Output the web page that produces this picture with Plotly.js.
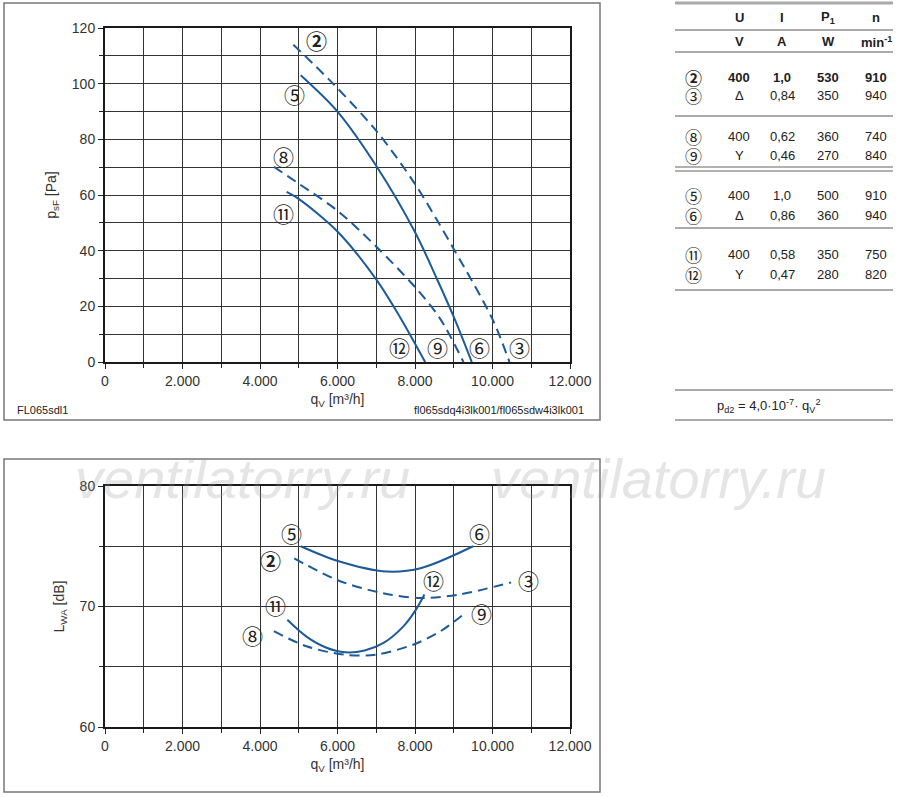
<!DOCTYPE html>
<html>
<head>
<meta charset="utf-8">
<script src="https://cdn.plot.ly/plotly-3.0.1.min.js"></script>
<style>body{margin:0;background:#fff}#chart{width:900px;height:797px}</style>
</head>
<body>
<div id="chart"></div>
<script>
// ---- Data: pressure curves (top chart), qV in m3/h, psF in Pa ----
const p23_q = [4861, 5893, 7003, 8002, 9003, 10002, 10437];
const p23_p = [114.0, 99.9, 83.0, 63.9, 40.5, 15.3, 0];
const p56_q = [5050, 6005, 7003, 8002, 8561, 9003, 9465];
const p56_p = [103.0, 89.9, 70.4, 46.6, 30.0, 16.1, 0];
const p89_q = [4361, 5007, 6005, 7003, 8002, 8647, 9250];
const p89_p = [70.1, 64.0, 54.3, 41.4, 26.9, 15.6, 0];
const p1112_q = [4688, 5007, 6005, 7003, 7614, 8262];
const p1112_p = [61.1, 58.5, 46.8, 29.6, 16.1, 0];

// ---- Data: sound power curves (bottom chart), LWA in dB ----
const l56_q = [5051, 5990, 7275, 8165, 9499];
const l56_l = [75.0, 73.8, 72.9, 73.2, 75.0];
const l23_q = [4883, 5990, 7176, 8165, 9153, 10481];
const l23_l = [74.0, 72.2, 71.1, 70.7, 71.0, 72.0];
const l1112_q = [4705, 5200, 5700, 6200, 6700, 7200, 7700, 8016, 8244];
const l1112_l = [68.9, 67.5, 66.6, 66.2, 66.35, 67.0, 68.35, 69.7, 71.0];
const l89_q = [4359, 5199, 6188, 6978, 7967, 8659, 9252];
const l89_l = [67.95, 66.7, 66.0, 66.0, 66.85, 67.95, 69.35];

// ---- Table data ----
const tblHead1 = ["U", "I", "P<sub>1</sub>", "n"];
const tblHead2 = ["V", "A", "W", "min<sup>-1</sup>"];
const tblLabel = ["②", "③", "⑧", "⑨", "⑤", "⑥", "⑪", "⑫"];
const tblU = ["400", "Δ", "400", "Y", "400", "Δ", "400", "Y"];
const tblI = ["1,0", "0,84", "0,62", "0,46", "1,0", "0,86", "0,58", "0,47"];
const tblP = ["530", "350", "360", "270", "500", "360", "350", "280"];
const tblN = ["910", "940", "740", "840", "910", "940", "750", "820"];

const W = 900, H = 797;
const X = v => v / W;
const Y = v => 1 - v / H;
const blue = '#1d5a98';
const FONT = 'Liberation Sans, Arial, sans-serif';
const CIRC = 'Noto Sans CJK JP, DejaVu Sans, sans-serif';

function tr(x, y, dash, xa, ya) {
  return {x: x, y: y, type: 'scatter', mode: 'lines', xaxis: xa, yaxis: ya,
    line: {color: blue, width: 2, dash: dash ? '10px,6px' : 'solid', shape: 'spline', smoothing: 0.9},
    hoverinfo: 'skip', showlegend: false};
}

const data = [
  tr(p23_q, p23_p, true, 'x', 'y'),
  tr(p56_q, p56_p, false, 'x', 'y'),
  tr(p89_q, p89_p, true, 'x', 'y'),
  tr(p1112_q, p1112_p, false, 'x', 'y'),
  tr(l56_q, l56_l, false, 'x2', 'y2'),
  tr(l23_q, l23_l, true, 'x2', 'y2'),
  tr(l1112_q, l1112_l, false, 'x2', 'y2'),
  tr(l89_q, l89_l, true, 'x2', 'y2')
];

function xax(anchor) {
  return {domain: [X(105), X(570)], range: [0, 12000], anchor: anchor,
    tickvals: [0, 2000, 4000, 6000, 8000, 10000, 12000], tickformat: ',d',
    ticks: 'outside', ticklen: 5, tickcolor: '#222',
    minor: {dtick: 1000, showgrid: true, gridcolor: '#333', gridwidth: 1, ticks: 'outside', ticklen: 4, tickcolor: '#222'},
    showgrid: true, gridcolor: '#333', gridwidth: 1,
    showline: true, linecolor: '#1a1a1a', linewidth: 2, mirror: true, zeroline: false,
    tickfont: {family: FONT, size: 14, color: '#333'},
    title: {text: 'q<sub>V</sub> [m³/h]', font: {family: FONT, size: 14, color: '#333'}, standoff: 6},
    automargin: false, fixedrange: true};
}
function yax(anchor, dom, range, dtick, minor) {
  return {domain: dom, range: range, anchor: anchor, dtick: dtick,
    ticks: 'outside', ticklen: 5, tickcolor: '#222',
    minor: {dtick: minor, showgrid: true, gridcolor: '#333', gridwidth: 1, ticks: 'outside', ticklen: 4, tickcolor: '#222'},
    showgrid: true, gridcolor: '#333', gridwidth: 1,
    showline: true, linecolor: '#1a1a1a', linewidth: 2, mirror: true, zeroline: false,
    tickfont: {family: FONT, size: 14, color: '#333'},
    automargin: false, fixedrange: true};
}

const yTop = yax('x', [Y(362), Y(28)], [0, 120], 20, 10);
yTop.title = {text: 'p<sub>sF</sub> [Pa]', font: {family: FONT, size: 14, color: '#333'}, standoff: 12};
const yBot = yax('x2', [Y(727), Y(486)], [60, 80], 10, 5);
yBot.title = {text: 'L<sub>WA</sub> [dB]', font: {family: FONT, size: 14, color: '#333'}, standoff: 12};

const ann = [];
function txt(t, x, y, size, anchor, extra) {
  ann.push(Object.assign({text: t, x: X(x), y: Y(y), xref: 'paper', yref: 'paper', showarrow: false,
    xanchor: anchor || 'center', yanchor: 'middle',
    font: {family: FONT, size: size, color: '#222'}}, extra || {}));
}
// watermark (drawn first, semi-transparent)
txt('<i>ventilatorry.ru</i>', 242, 478, 56, 'center', {font: {family: FONT, size: 56, color: 'rgba(150,150,150,0.25)'}});
txt('<i>ventilatorry.ru</i>', 658, 478, 56, 'center', {font: {family: FONT, size: 56, color: 'rgba(150,150,150,0.25)'}});

function lab(t, x, y, xr, yr, bold) {
  ann.push({text: bold ? '<b>' + t + '</b>' : t, x: x, y: y, xref: xr, yref: yr, showarrow: false,
    xanchor: 'center', yanchor: 'middle',
    font: {family: CIRC, size: 21, color: '#222'}});
}
// top chart curve labels
lab('②', 5447, 115.8, 'x', 'y', true);
lab('⑤', 4903, 96.2, 'x', 'y');
lab('⑧', 4606, 74.1, 'x', 'y');
lab('⑪', 4606, 53.5, 'x', 'y');
lab('⑫', 7601, 5.5, 'x', 'y');
lab('⑨', 8580, 5.5, 'x', 'y');
lab('⑥', 9677, 5.5, 'x', 'y');
lab('③', 10705, 5.5, 'x', 'y');
// bottom chart curve labels
lab('⑤', 4804, 76.12, 'x2', 'y2');
lab('⑥', 9677, 76.12, 'x2', 'y2');
lab('②', 4270, 73.85, 'x2', 'y2', true);
lab('⑫', 8481, 72.24, 'x2', 'y2');
lab('③', 10929, 72.24, 'x2', 'y2');
lab('⑪', 4408, 70.11, 'x2', 'y2');
lab('⑨', 9727, 69.42, 'x2', 'y2');
lab('⑧', 3815, 67.67, 'x2', 'y2');

txt('FL065sdl1', 15, 410, 11, 'left');
txt('fl065sdq4i3lk001/fl065sdw4i3lk001', 586, 410, 11, 'right');

// table
const colX = [739, 782, 828, 876];
tblHead1.forEach((t, i) => txt('<b>' + t + '</b>', colX[i], 17, 13));
tblHead2.forEach((t, i) => txt('<b>' + t + '</b>', colX[i], 42, 13));
const rowY = [77, 96, 136, 155, 196, 215, 255, 274];
tblLabel.forEach((t, r) => {
  const b = r === 0;
  ann.push({text: b ? '<b>' + t + '</b>' : t, x: X(693), y: Y(rowY[r]), xref: 'paper', yref: 'paper', showarrow: false,
    xanchor: 'center', yanchor: 'middle',
    font: {family: CIRC, size: 17, color: '#222'}});
  const w = s => b ? '<b>' + s + '</b>' : s;
  txt(w(tblU[r]), colX[0], rowY[r], 13);
  txt(w(tblI[r]), colX[1], rowY[r], 13);
  txt(w(tblP[r]), colX[2], rowY[r], 13);
  txt(w(tblN[r]), colX[3], rowY[r], 13);
});
txt('p<sub>d2</sub> = 4,0·10<sup>-7</sup>· q<sub>V</sub><sup>2</sup>', 768, 406, 13);

const shapes = [];
function hl(y, color, w) {
  shapes.push({type: 'line', xref: 'paper', yref: 'paper', x0: X(675), x1: X(893), y0: Y(y), y1: Y(y),
    line: {color: color, width: w}});
}
hl(3, '#aaa', 3); hl(30, '#555', 1); hl(52, '#555', 1); hl(116, '#555', 1);
hl(167, '#999', 1.5); hl(171, '#999', 1.5); hl(228, '#555', 1); hl(290, '#555', 1);
hl(390, '#555', 1); hl(420, '#555', 1);
shapes.push({type: 'rect', xref: 'paper', yref: 'paper', x0: X(4), x1: X(600), y0: Y(420), y1: Y(3),
  line: {color: '#777', width: 1.5}, layer: 'below'});
shapes.push({type: 'rect', xref: 'paper', yref: 'paper', x0: X(4), x1: X(600), y0: Y(792), y1: Y(459),
  line: {color: '#777', width: 1.5}, layer: 'below'});

const layout = {
  width: W, height: H, margin: {l: 0, r: 0, t: 0, b: 0, pad: 0},
  paper_bgcolor: '#fff', plot_bgcolor: '#fff', showlegend: false,
  separators: ',.',
  xaxis: xax('y'), yaxis: yTop,
  xaxis2: xax('y2'), yaxis2: yBot,
  annotations: ann, shapes: shapes
};

Plotly.newPlot('chart', data, layout, {staticPlot: true, displayModeBar: false});
</script>
</body>
</html>
